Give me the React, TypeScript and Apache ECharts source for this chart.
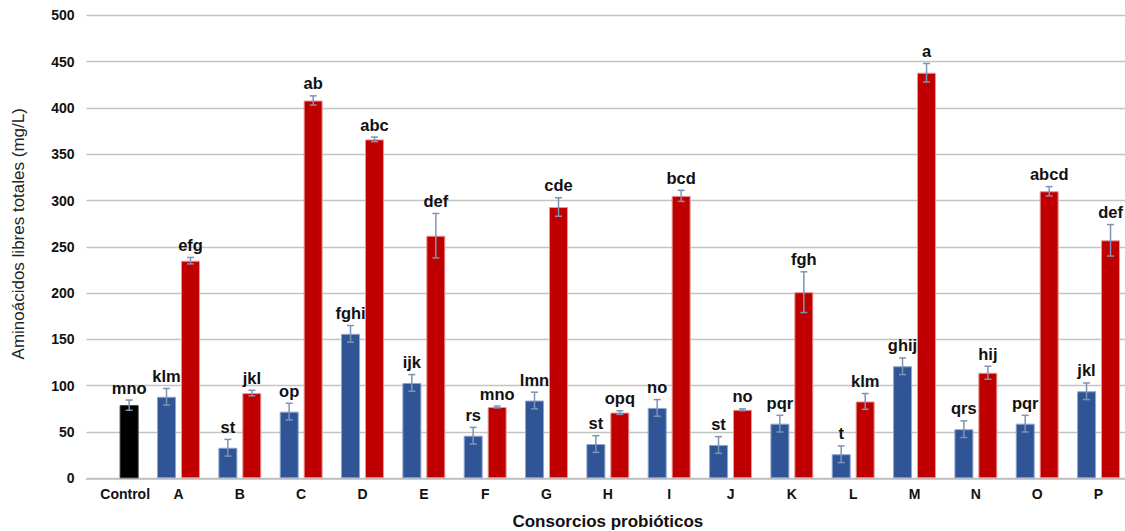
import React, { useEffect, useRef } from "react";
import * as echarts from "echarts";

const categories = ["Control", "A", "B", "C", "D", "E", "F", "G", "H", "I", "J", "K", "L", "M", "N", "O", "P"];
const blueValues: (number | null)[] = [null, 88, 33, 72, 156, 103, 46, 84, 37, 76, 36, 59, 26, 121, 53, 59, 94];
const blueErrors: (number | null)[] = [null, 9, 9, 9, 9, 9, 9, 9, 9, 9, 9, 9, 9, 9, 9, 9, 9];
const blueLetters = ["", "klm", "st", "op", "fghi", "ijk", "rs", "lmn", "st", "no", "st", "pqr", "t", "ghij", "qrs", "pqr", "jkl"];
const redValues = [79, 235, 92, 408, 366, 262, 77, 293, 71, 305, 74, 201, 83, 438, 114, 310, 257];
const redErrors = [5.5, 3.5, 3, 5, 2.5, 24, 1, 10, 2, 6, 1, 22, 8.5, 10, 7, 5, 17];
const redLetters = ["mno", "efg", "jkl", "ab", "abc", "def", "mno", "cde", "opq", "bcd", "no", "fgh", "klm", "a", "hij", "abcd", "def"];
const yTicks = { min: 0, max: 500, interval: 50 };

const FONT = 'Arial, "Liberation Sans", sans-serif';
const BLUE = "#2F5597";
const RED = "#C00000";
const ERR = "#7F93B5";
const BAR_W = 19;
const OFFSET = 12;

function errSeries(values: (number | null)[], errs: (number | null)[], letters: string[], dx: number) {
  return {
    type: "custom",
    z: 5,
    clip: false,
    data: values.map((v, i) => [i, v == null ? null : v, errs[i] == null ? 0 : errs[i]]),
    renderItem: (params: any, api: any) => {
      const idx = params.dataIndex;
      const v = values[idx];
      if (v == null) return null;
      const e = errs[idx] || 0;
      const pHi = api.coord([idx, v + e]);
      const pLo = api.coord([idx, v - e]);
      const x = pHi[0] + dx;
      const cap = 3.5;
      return {
        type: "group",
        children: [
          { type: "line", shape: { x1: x, y1: pHi[1], x2: x, y2: pLo[1] }, style: { stroke: ERR, lineWidth: 1.5 } },
          { type: "line", shape: { x1: x - cap, y1: pHi[1], x2: x + cap, y2: pHi[1] }, style: { stroke: ERR, lineWidth: 1.5 } },
          { type: "line", shape: { x1: x - cap, y1: pLo[1], x2: x + cap, y2: pLo[1] }, style: { stroke: ERR, lineWidth: 1.5 } },
          {
            type: "text",
            x: x,
            y: pHi[1] - 4,
            style: {
              text: letters[idx],
              fill: "#111",
              font: `bold 16.5px ${FONT}`,
              align: "center",
              verticalAlign: "bottom",
            },
          },
        ],
      };
    },
  };
}

export default function App() {
  const ref = useRef<HTMLDivElement>(null);
  useEffect(() => {
    if (!ref.current) return;
    const chart = echarts.init(ref.current, null, { renderer: "svg" });
    chart.setOption({
      animation: false,
      backgroundColor: "#ffffff",
      grid: { left: 86.5, width: 1042.7, top: 15.3, bottom: 52.7, containLabel: false, outerBoundsMode: "none" },
      xAxis: {
        type: "category",
        data: categories,
        axisTick: { show: false },
        axisLine: { lineStyle: { color: "#BFBFBF", width: 1.5 } },
        axisLabel: {
          margin: 9,
          color: "#111",
          fontFamily: FONT,
          fontWeight: "bold",
          fontSize: 14,
          interval: 0,
          formatter: (v: string) => (v === "Control" ? `{c|${v}}` : v),
          rich: { c: { padding: [0, 0, 0, 16], fontFamily: FONT, fontWeight: "bold", fontSize: 14, color: "#111" } },
        },
        name: "Consorcios probióticos",
        nameLocation: "middle",
        nameGap: 35,
        nameTextStyle: { fontFamily: FONT, fontWeight: "bold", fontSize: 17, color: "#111", verticalAlign: "top", lineHeight: 17 },
      },
      yAxis: {
        type: "value",
        min: yTicks.min,
        max: yTicks.max,
        interval: yTicks.interval,
        axisLine: { show: false },
        axisTick: { show: false },
        splitLine: { lineStyle: { color: "#C4C4C4", width: 1.3 } },
        axisLabel: { margin: 12, color: "#111", fontFamily: FONT, fontWeight: "bold", fontSize: 14 },
        name: "Aminoácidos libres totales (mg/L)",
        nameLocation: "middle",
        nameGap: 60,
        nameRotate: 90,
        nameTextStyle: { fontFamily: FONT, fontSize: 17, color: "#222", padding: [0, 0, 0, 26] },
      },
      series: [
        {
          type: "bar",
          data: blueValues,
          barWidth: BAR_W,
          barGap: "26%",
          itemStyle: { color: BLUE, borderColor: "#8FA6CF", borderWidth: 1 },
        },
        {
          type: "bar",
          data: redValues.map((v, i) =>
            i === 0 ? { value: v, itemStyle: { color: "#000000", borderColor: "#333", borderWidth: 1 } } : v
          ),
          barWidth: BAR_W,
          barGap: "26%",
          itemStyle: { color: RED, borderColor: "#E79A9A", borderWidth: 1 },
        },
        errSeries(blueValues, blueErrors, blueLetters, -OFFSET),
        errSeries(redValues, redErrors, redLetters, OFFSET),
      ],
    });
    return () => chart.dispose();
  }, []);
  return (
    <div
      ref={ref}
      style={{ position: "fixed", left: 0, top: 0, width: 1125, height: 531, background: "#fff" }}
    />
  );
}
